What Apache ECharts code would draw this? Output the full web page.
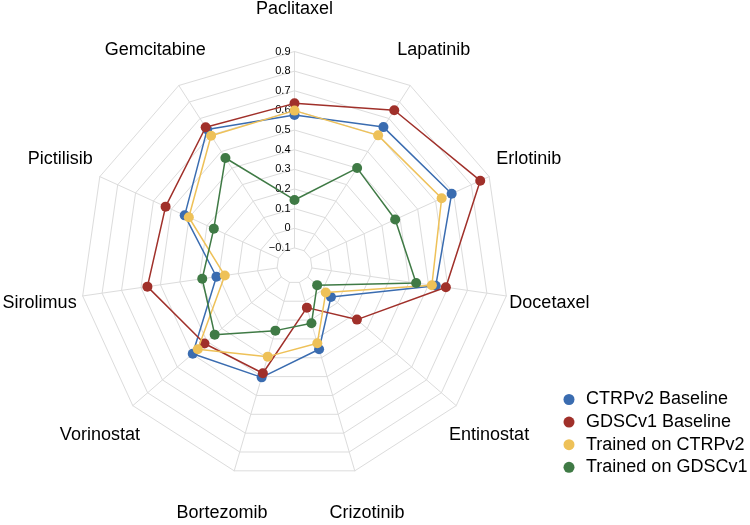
<!DOCTYPE html>
<html><head><meta charset="utf-8">
<script src="https://cdn.jsdelivr.net/npm/echarts@6/dist/echarts.min.js"></script>
<style>html,body{margin:0;padding:0;background:#fff}#c{width:750px;height:525px}</style>
</head><body><div id="c"></div>
<script>
// Indicators in clockwise order starting from the top
const drugs = ['Paclitaxel','Lapatinib','Erlotinib','Docetaxel','Entinostat','Crizotinib','Bortezomib','Vorinostat','Sirolimus','Pictilisib','Gemcitabine'];
const ctrpBaseline = [0.577,0.648,0.690,0.537,0.056,0.255,0.404,0.496,0.212,0.425,0.633];
const gdscBaseline = [0.636,0.750,0.850,0.589,0.231,0.034,0.382,0.417,0.567,0.532,0.647];
const trainedCtrp  = [0.599,0.598,0.634,0.517,0.021,0.223,0.294,0.462,0.169,0.402,0.596];
const trainedGdsc  = [0.144,0.400,0.374,0.436,-0.037,0.117,0.156,0.348,0.285,0.262,0.461];
const seriesNames = ['CTRPv2 Baseline','GDSCv1 Baseline','Trained on CTRPv2','Trained on GDSCv1'];
const tickLabels = ['\u22120.1','0','0.1','0.2','0.3','0.4','0.5','0.6','0.7','0.8','0.9'];
const axisMin = -0.1, axisMax = 0.9;

// presentation constants
const CX = 294.5, CY = 265.5, R0 = 17.6, R1 = 214, NAME_R = 257.5;
const colors = ['#3a6cb0', '#a0302a', '#eec158', '#3f7a45'];
const FONT = '"Liberation Sans", Arial, Helvetica, sans-serif';

// ECharts radar places indicators counter-clockwise; reorder to get clockwise layout
const order = [0].concat(drugs.map((_, i) => i).slice(1).reverse());
const reorder = arr => order.map(i => arr[i]);

const indicator = reorder(drugs).map((name, i) => ({
  name, min: axisMin, max: axisMax,
  axisLabel: i === 0 ? {show: true} : undefined
}));

const allSeries = [ctrpBaseline, gdscBaseline, trainedCtrp, trainedGdsc];

// indicator names centred on a circle just outside the grid (clockwise from top)
const nameGraphics = drugs.map((name, i) => {
  const a = i * 2 * Math.PI / drugs.length;
  return {
    type: 'text', silent: true,
    x: CX + NAME_R * Math.sin(a),
    y: CY - NAME_R * Math.cos(a) + 0.75,
    style: {text: name, font: '18px ' + FONT, fill: '#000', align: 'center', verticalAlign: 'middle'}
  };
});

const chart = echarts.init(document.getElementById('c'), null, {renderer: 'canvas'});
chart.setOption({
  animation: false,
  backgroundColor: '#fff',
  color: colors,
  textStyle: {fontFamily: FONT},
  legend: {
    orient: 'vertical', left: 558.5, top: 385.5,
    icon: 'circle', itemWidth: 24, itemHeight: 11, itemGap: 4.6,
    textStyle: {fontSize: 18, color: '#000', fontFamily: FONT},
    data: seriesNames
  },
  radar: {
    center: [CX, CY],
    radius: [R0, R1],
    startAngle: 90,
    splitNumber: 10,
    shape: 'polygon',
    indicator,
    axisName: {show: false},
    axisLine: {lineStyle: {color: '#dcdcdc', width: 1}},
    splitLine: {lineStyle: {color: '#dcdcdc', width: 1}},
    splitArea: {show: false},
    axisTick: {show: false},
    axisLabel: {
      show: false, margin: 4, fontSize: 11, color: '#000', fontFamily: FONT,
      formatter: v => tickLabels[Math.round((v - axisMin) / 0.1)]
    }
  },
  graphic: nameGraphics,
  series: allSeries.map((vals, k) => ({
    type: 'radar',
    name: seriesNames[k],
    symbol: 'circle', symbolSize: 10,
    lineStyle: {width: 1.5, color: colors[k]},
    itemStyle: {color: colors[k]},
    z: 2 + k,
    data: [{name: seriesNames[k], value: reorder(vals)}]
  }))
});
</script></body></html>
